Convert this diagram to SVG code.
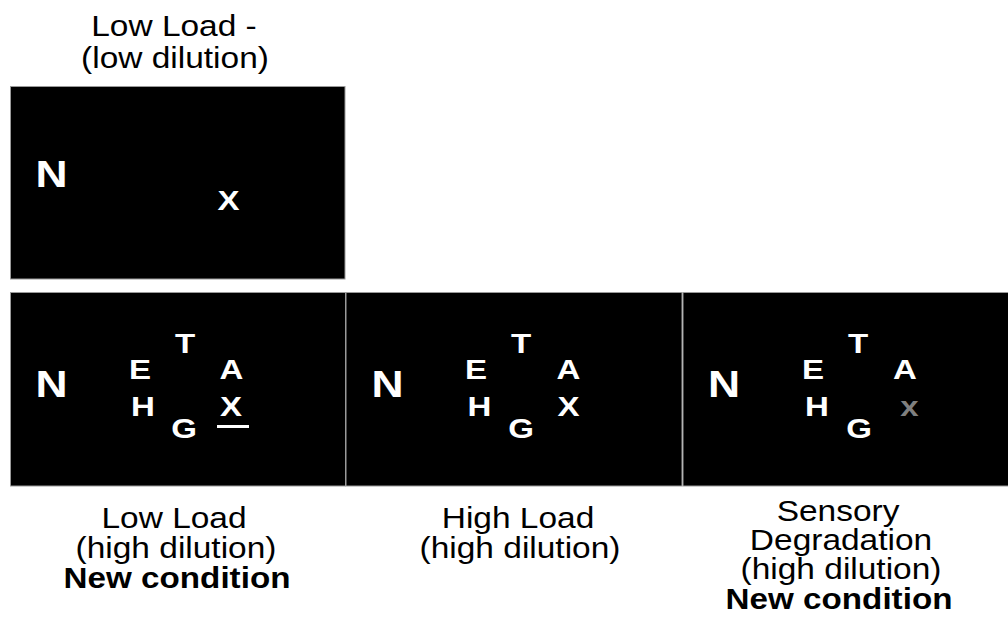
<svg xmlns="http://www.w3.org/2000/svg" width="1008" height="631" viewBox="0 0 1008 631">
<style>
.bg{fill:#ffffff}
.panel{fill:#000000;stroke:#9a9a9a;stroke-width:1}
.lab{font-family:"Liberation Sans",Arial,sans-serif;font-size:27px;fill:#000000;text-anchor:middle}
.labb{font-family:"Liberation Sans",Arial,sans-serif;font-size:27px;font-weight:bold;fill:#000000;text-anchor:middle}
.let{font-family:"Liberation Sans",Arial,sans-serif;font-size:28px;font-weight:bold;fill:#ffffff;text-anchor:middle}
.big{font-family:"Liberation Sans",Arial,sans-serif;font-size:37px;font-weight:bold;fill:#ffffff;text-anchor:middle}
.dim{fill:#7f7f7f}
</style>
<rect class="bg" x="0" y="0" width="1008" height="631"/>

<g id="panel-top">
  <text class="lab" transform="translate(174 36) scale(1.24 1.08)">Low Load -</text>
  <text class="lab" transform="translate(175 68) scale(1.24 1.08)">(low dilution)</text>
  <rect class="panel" x="10.5" y="86.5" width="334.5" height="192.5"/>
  <text class="big" transform="translate(51.5 187) scale(1.2 1)">N</text>
  <text class="let" transform="translate(228.5 210) scale(1.18 1)">X</text>
</g>

<g id="panel-low-load">
  <rect class="panel" x="10.5" y="292.5" width="335" height="193.5"/>
  <text class="big" transform="translate(51.5 397) scale(1.2 1)">N</text>
  <text class="let" transform="translate(185 353) scale(1.18 1)">T</text>
  <text class="let" transform="translate(140 379) scale(1.18 1)">E</text>
  <text class="let" transform="translate(231.5 379) scale(1.18 1)">A</text>
  <text class="let" transform="translate(143 416) scale(1.18 1)">H</text>
  <text class="let" transform="translate(231 416) scale(1.18 1)">X</text>
  <rect x="217" y="425" width="32" height="3" fill="#ffffff"/>
  <text class="let" transform="translate(184 438) scale(1.18 1)">G</text>
  <text class="lab" transform="translate(174 528) scale(1.24 1.08)">Low Load</text>
  <text class="lab" transform="translate(176 558) scale(1.24 1.08)">(high dilution)</text>
  <text class="labb" transform="translate(177 588) scale(1.23 1.08)">New condition</text>
</g>

<g id="panel-high-load">
  <rect class="panel" x="346" y="292.5" width="336" height="193.5"/>
  <text class="big" transform="translate(387.5 397) scale(1.2 1)">N</text>
  <text class="let" transform="translate(521 353) scale(1.18 1)">T</text>
  <text class="let" transform="translate(476 379) scale(1.18 1)">E</text>
  <text class="let" transform="translate(568.5 379) scale(1.18 1)">A</text>
  <text class="let" transform="translate(479.5 416) scale(1.18 1)">H</text>
  <text class="let" transform="translate(568.5 416) scale(1.18 1)">X</text>
  <text class="let" transform="translate(521 438) scale(1.18 1)">G</text>
  <text class="lab" transform="translate(518 528) scale(1.24 1.08)">High Load</text>
  <text class="lab" transform="translate(520 558) scale(1.24 1.08)">(high dilution)</text>
</g>

<g id="panel-sensory">
  <rect class="panel" x="683" y="292.5" width="326" height="193.5"/>
  <text class="big" transform="translate(724 397) scale(1.2 1)">N</text>
  <text class="let" transform="translate(858 353) scale(1.18 1)">T</text>
  <text class="let" transform="translate(813 379) scale(1.18 1)">E</text>
  <text class="let" transform="translate(905 379) scale(1.18 1)">A</text>
  <text class="let" transform="translate(817 416) scale(1.18 1)">H</text>
  <text class="let dim" transform="translate(909.5 416) scale(1.18 1)">x</text>
  <text class="let" transform="translate(859 438) scale(1.18 1)">G</text>
  <text class="lab" transform="translate(838 521) scale(1.24 1.08)">Sensory</text>
  <text class="lab" transform="translate(841 550) scale(1.24 1.08)">Degradation</text>
  <text class="lab" transform="translate(841 579) scale(1.24 1.08)">(high dilution)</text>
  <text class="labb" transform="translate(839 609) scale(1.23 1.08)">New condition</text>
</g>
</svg>
